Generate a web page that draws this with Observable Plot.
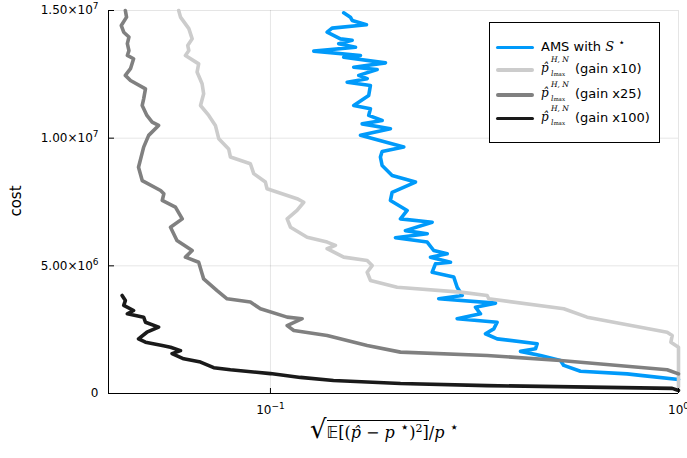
<!DOCTYPE html>
<html>
<head>
<meta charset="utf-8">
<script src="https://cdn.jsdelivr.net/npm/d3@7"></script>
<script src="https://cdn.jsdelivr.net/npm/@observablehq/plot@0.6"></script>
<style>
  body { margin: 0; background: #fff; }
  #wrap { position: relative; width: 687px; height: 458px; font-family: "DejaVu Sans", sans-serif; }
  #ylab { position: absolute; left: 16px; top: 201px; transform: translate(-50%, -50%) rotate(-90deg); font-size: 15px; }
  #xlab { position: absolute; left: 310px; top: 414px; font-size: 16px; white-space: nowrap; font-family: "DejaVu Serif", serif; }
  #xlab i { font-style: italic; }
  #xlab sup { font-size: 11px; }
  #xlab sup.st { font-size: 15px; font-family: "DejaVu Sans"; }
  .ov { border-top: 1.5px solid #000; padding-top: 2px; }
  #legend { position: absolute; left: 489px; top: 22px; width: 169px; height: 119px; border: 1px solid #000; background: #fff; font-size: 13px; }
  .row { position: absolute; left: 0; height: 20px; width: 169px; transform: translateY(-50%); }
  .sw { position: absolute; left: 6px; top: 8px; width: 38px; height: 3.6px; border-radius: 2px; }
  .lt { position: absolute; left: 51px; top: 1px; white-space: nowrap; }
  .star { font-size: 11px; position: relative; top: -5px; line-height: 1; }
  .pm { font-family: "DejaVu Serif", serif; font-style: italic; font-size: 12px; display: inline-block; width: 34px; position: relative; height: 14px; vertical-align: -2px; }
  .pm .b { position: absolute; left: 0; top: 0; }
  .pm .hn { position: absolute; left: 10px; top: -6px; font-size: 7.5px; }
  .pm .lm { position: absolute; left: 10px; top: 8px; font-size: 7.5px; }
  .pm .lm small { font-size: 5.5px; font-style: normal; }
</style>
</head>
<body>
<div id="wrap"></div>
<script>
// ---- data (relative error, cost in units of 1e6) ----
const amsErr = [0.1512,0.157,0.1586,0.1719,0.1416,0.1377,0.1484,0.1586,0.147,0.1616,0.1277,0.1662,0.1512,0.1914,0.16,0.1826,0.1646,0.1726,0.1542,0.1758,0.1741,0.16,0.1758,0.1741,0.1878,0.1678,0.1968,0.1662,0.2122,0.1878,0.186,0.1878,0.1987,0.2267,0.1987,0.1968,0.2163,0.2083,0.2491,0.2142,0.2422,0.2025,0.2422,0.2513,0.2711,0.2467,0.2762,0.2537,0.2491,0.2814,0.2868,0.2951,0.2585,0.3561,0.318,0.3271,0.2868,0.3594,0.3526,0.3365,0.3594,0.4505,0.4462,0.41,0.4589,0.5137,0.5234,0.5751,0.7486,0.807,1.0];
const amsCost = [14.91,14.74,14.61,14.44,14.31,14.15,13.89,13.83,13.70,13.56,13.41,13.24,13.17,12.95,12.78,12.69,12.46,12.33,12.19,12.06,11.67,11.28,11.15,10.89,10.69,10.56,10.37,10.11,9.65,9.48,9.26,8.93,8.54,8.28,7.88,7.56,7.17,6.84,6.71,6.38,6.26,6.10,5.93,5.60,5.47,5.34,5.14,5.08,4.75,4.56,4.16,3.84,3.71,3.54,3.38,3.12,2.93,2.79,2.53,2.34,2.14,1.95,1.75,1.65,1.49,1.29,1.10,0.87,0.77,0.71,0.55];

const g10Err = [0.0596,0.0602,0.0631,0.0643,0.0627,0.0631,0.0619,0.0667,0.0661,0.068,0.0686,0.0674,0.0706,0.0733,0.0747,0.079,0.0798,0.0893,0.091,0.0972,0.0981,0.1162,0.1207,0.1162,0.1099,0.112,0.123,0.1377,0.1443,0.1377,0.1512,0.1726,0.1775,0.1726,0.1758,0.2044,0.2922,0.3397,0.3428,0.5234,0.5971,0.938,0.965,0.958,1.0,1.0];
const g10Cost = [15.0,14.74,14.29,13.89,13.63,13.43,13.24,12.91,12.59,12.13,11.74,11.28,10.89,10.50,9.98,9.58,9.26,9.0,8.61,8.28,8.02,7.63,7.49,7.17,6.84,6.51,6.12,5.93,5.80,5.67,5.34,5.21,5.01,4.75,4.43,4.16,3.97,3.84,3.71,3.32,2.99,2.40,2.27,2.01,1.81,0.25];

const g25Err = [0.0441,0.0444,0.0431,0.0437,0.045,0.0446,0.045,0.0446,0.0462,0.0454,0.0441,0.0454,0.0494,0.0489,0.0485,0.0498,0.0513,0.0532,0.0503,0.0489,0.0475,0.0485,0.0538,0.0548,0.0543,0.0585,0.0608,0.0569,0.059,0.0643,0.0619,0.0667,0.068,0.0686,0.074,0.0783,0.0893,0.0945,0.1099,0.1196,0.1099,0.1141,0.1377,0.1726,0.2083,0.3397,0.5137,0.938,1.0];
const g25Cost = [15.0,14.74,14.41,14.15,13.96,13.70,13.43,13.24,13.11,12.72,12.46,12.26,11.93,11.54,11.28,10.89,10.63,10.50,10.11,9.65,8.86,8.34,7.95,7.82,7.56,7.30,6.84,6.51,5.99,5.60,5.34,5.14,4.69,4.49,4.03,3.71,3.58,3.32,2.99,2.93,2.66,2.47,2.27,1.88,1.62,1.49,1.29,0.93,0.77];

const g100Err = [0.0433,0.0441,0.0437,0.0462,0.0446,0.0489,0.0494,0.0532,0.0498,0.0475,0.0494,0.0543,0.0569,0.0602,0.0574,0.0613,0.0674,0.0726,0.0798,0.1,0.1184,0.1427,0.2083,0.3397,0.965,1.0];
const g100Cost = [3.84,3.64,3.45,3.25,3.12,2.99,2.79,2.60,2.40,2.14,2.01,1.88,1.81,1.68,1.56,1.36,1.23,1.01,0.93,0.78,0.63,0.51,0.39,0.31,0.2,0.12];

const seriesNames = ["AMS", "gain x10", "gain x25", "gain x100"];
const seriesColors = ["#009AFA", "#cccccc", "#808080", "#1a1a1a"];
const xTicks = [0.1, 1];
const xTickBase = ["10", "10"];
const xTickExp = ["−1", "0"];
const yTicks = [0, 5e6, 1e7, 1.5e7];
const yTickBase = ["0", "5.00×10", "1.00×10", "1.50×10"];
const yTickExp = ["", "6", "7", "7"];
const xDomain = [0.0401, 1];
const yDomain = [0, 1.5e7];

function toRows(errs, costs, name) {
  return errs.map((e, i) => ({err: e, cost: costs[i] * 1e6, series: name}));
}
const allSeries = [
  toRows(amsErr, amsCost, seriesNames[0]),
  toRows(g10Err, g10Cost, seriesNames[1]),
  toRows(g25Err, g25Cost, seriesNames[2]),
  toRows(g100Err, g100Cost, seriesNames[3])
];

const chart = Plot.plot({
  width: 687, height: 458,
  marginLeft: 108, marginRight: 9, marginTop: 10, marginBottom: 65,
  style: {fontFamily: "DejaVu Sans", fontSize: "12px", background: "white", color: "black"},
  x: {type: "log", domain: xDomain},
  y: {domain: yDomain},
  marks: [
    Plot.gridX(xTicks, {stroke: "#000", strokeOpacity: 0.1, strokeWidth: 1}),
    Plot.gridY(yTicks, {stroke: "#000", strokeOpacity: 0.1, strokeWidth: 1}),
    ...allSeries.map((rows, i) => Plot.line(rows, {x: "err", y: "cost", stroke: seriesColors[i], strokeWidth: 3.6, strokeLinejoin: "round", strokeLinecap: "round"})),
    Plot.ruleX([xDomain[0]], {stroke: "#000", strokeWidth: 1}),
    Plot.ruleY([0], {stroke: "#000", strokeWidth: 1}),
    Plot.axisY({ticks: yTicks, tickSize: 0, tickPadding: 10, tickFormat: d => "Y" + yTicks.indexOf(d), label: null, fontSize: 12}),
    Plot.axisY({ticks: yTicks, tickSize: 6, dx: 6, tickFormat: () => "", label: null}),
    Plot.axisX({ticks: xTicks, tickSize: 0, tickPadding: 12, tickFormat: d => "X" + xTicks.indexOf(d), label: null, fontSize: 12}),
    Plot.axisX({ticks: xTicks, tickSize: 5, dy: -5, tickFormat: () => "", label: null})
  ]
});

// typeset tick labels as base + raised exponent
d3.select(chart).selectAll("text").each(function() {
  const t = this.textContent;
  const m = t.match(/^([XY])(\d+)$/);
  if (!m) return;
  const i = +m[2];
  const base = m[1] === "Y" ? yTickBase[i] : xTickBase[i];
  const exp = m[1] === "Y" ? yTickExp[i] : xTickExp[i];
  const sel = d3.select(this);
  sel.text(null);
  sel.append("tspan").text(base);
  if (exp) sel.append("tspan").attr("dy", "-0.55em").attr("font-size", "9px").text(exp);
});

const wrap = document.getElementById("wrap");
wrap.appendChild(chart);

wrap.insertAdjacentHTML("beforeend", `
<div id="ylab">cost</div>
<div id="xlab"><span style="font-size:26px;font-family:'DejaVu Sans'">√</span><span class="ov"><span style="font-family:'DejaVu Sans'">𝔼</span>[(<i>p̂</i> − <i>p</i> <sup class="st">⋆</sup>)<sup>2</sup>]</span>/<i>p</i> <sup class="st">⋆</sup></div>
`);

const pm = `<span class="pm"><span class="b">p̂</span><span class="hn">H, N</span><span class="lm">l<small>max</small></span></span>`;
const legendLabels = [
  `AMS with <span style="font-family:'DejaVu Serif';font-style:italic">S</span> <span class="star">⋆</span>`,
  `${pm}(gain x10)`,
  `${pm}(gain x25)`,
  `${pm}(gain x100)`
];
const rowTops = [24.7, 47, 72, 95.7];
let lg = `<div id="legend">`;
legendLabels.forEach((lab, i) => {
  lg += `<div class="row" style="top:${rowTops[i]}px"><div class="sw" style="background:${seriesColors[i]}"></div><div class="lt">${lab}</div></div>`;
});
lg += `</div>`;
wrap.insertAdjacentHTML("beforeend", lg);
</script>
</body>
</html>
